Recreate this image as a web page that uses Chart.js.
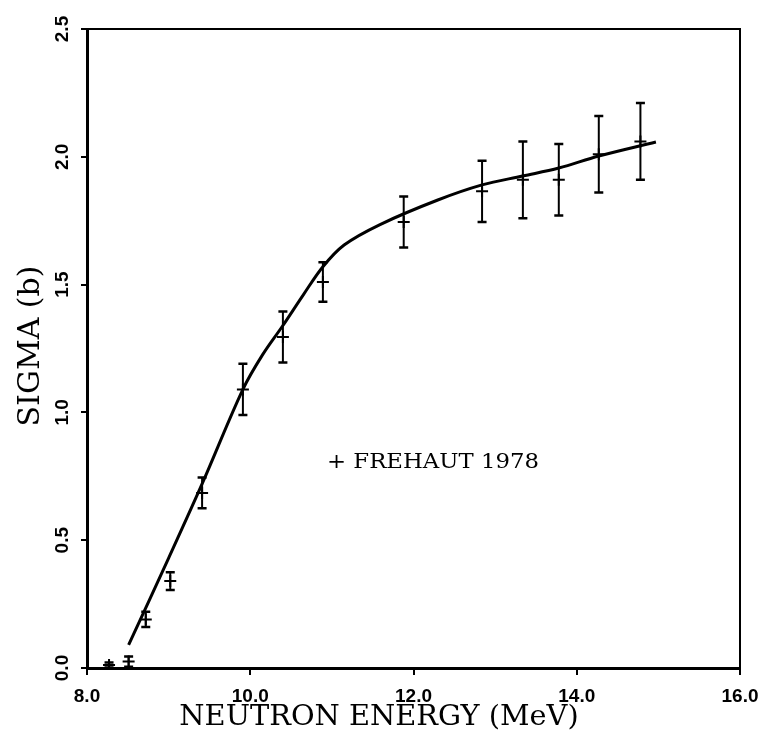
<!DOCTYPE html>
<html><head><meta charset="utf-8">
<script src="https://cdn.jsdelivr.net/npm/chart.js@4.4.1/dist/chart.umd.min.js"></script>
<style>html,body{margin:0;padding:0;background:#fff}#wrap{width:770px;height:741px}</style>
</head><body><div id="wrap"><canvas id="c" width="770" height="741"></canvas></div>
<script>
// Measured points (FREHAUT 1978)
const energies = [8.27, 8.51, 8.72, 9.02, 9.41, 9.91, 10.40, 10.89, 11.88, 12.84, 13.34, 13.78, 14.27, 14.78];
const sigma    = [0.012, 0.025, 0.19, 0.34, 0.685, 1.09, 1.295, 1.51, 1.745, 1.865, 1.91, 1.91, 2.01, 2.06];
const sigmaErr = [0.01, 0.02, 0.03, 0.035, 0.06, 0.10, 0.10, 0.077, 0.10, 0.12, 0.15, 0.14, 0.15, 0.15];
// Evaluated curve
const curveEnergy = [8.51, 9.00, 9.41, 9.91, 10.15, 10.40, 10.65, 10.89, 11.15, 11.59, 12.29, 12.84, 13.34, 13.78, 14.27, 14.97];
const curveSigma  = [0.09, 0.43, 0.72, 1.09, 1.225, 1.34, 1.46, 1.57, 1.655, 1.735, 1.83, 1.89, 1.925, 1.956, 2.003, 2.058];
// Axes
const xMin = 8, xMax = 16, xStep = 2;
const yMin = 0, yMax = 2.5, yStep = 0.5;
const xTitle = 'NEUTRON ENERGY (MeV)';
const yTitle = 'SIGMA (b)';
const legendText = '+ FREHAUT 1978';

const errorBars = {
  id: 'errorBars',
  afterDatasetsDraw(chart) {
    const {ctx, scales: {x, y}} = chart;
    ctx.save();
    ctx.strokeStyle = '#000';
    ctx.lineCap = 'butt';
    for (let i = 0; i < energies.length; i++) {
      const px = x.getPixelForValue(energies[i]);
      const top = y.getPixelForValue(sigma[i] + sigmaErr[i]);
      const bot = y.getPixelForValue(Math.max(0, sigma[i] - sigmaErr[i]));
      ctx.lineWidth = 2;
      ctx.beginPath(); ctx.moveTo(px, top); ctx.lineTo(px, bot); ctx.stroke();
      ctx.lineWidth = 2.5;
      ctx.beginPath();
      ctx.moveTo(px - 4.5, top); ctx.lineTo(px + 4.5, top);
      ctx.moveTo(px - 4.5, bot); ctx.lineTo(px + 4.5, bot);
      ctx.stroke();
    }
    ctx.restore();
  }
};

function stretchedText(ctx, text, cx, cy, sx, rot) {
  ctx.save();
  ctx.translate(cx, cy);
  if (rot) ctx.rotate(rot);
  ctx.scale(sx, 1);
  ctx.fillText(text, 0, 0);
  ctx.restore();
}

const frameAndText = {
  id: 'frameAndText',
  afterDraw(chart) {
    const {ctx, chartArea: a} = chart;
    ctx.save();
    ctx.strokeStyle = '#000';
    ctx.lineWidth = 2;
    ctx.beginPath();
    ctx.moveTo(a.left - 1, a.top); ctx.lineTo(a.right, a.top); ctx.lineTo(a.right, a.bottom);
    ctx.stroke();
    ctx.fillStyle = '#000';
    ctx.textAlign = 'center'; ctx.textBaseline = 'middle';
    ctx.font = '28px "DejaVu Serif"';
    stretchedText(ctx, xTitle, 379, 718, 1.03, 0);
    ctx.font = '30px "DejaVu Serif"';
    stretchedText(ctx, yTitle, 31, 346, 1.0, -Math.PI / 2);
    ctx.font = '20px "DejaVu Serif"';
    ctx.textAlign = 'left';
    stretchedText(ctx, legendText, 327, 463, 1.14, 0);
    ctx.restore();
  }
};

const tickFont = {family: '"Liberation Sans", Arial, sans-serif', weight: 'bold', size: 19};

new Chart(document.getElementById('c'), {
  data: {
    datasets: [
      {
        type: 'line',
        data: curveEnergy.map((e, i) => ({x: e, y: curveSigma[i]})),
        borderColor: '#000', borderWidth: 3, pointRadius: 0,
        tension: 0.35, fill: false
      },
      {
        type: 'scatter',
        data: energies.map((e, i) => ({x: e, y: sigma[i]})),
        pointStyle: 'cross', pointRadius: 6, borderColor: '#000', borderWidth: 2,
        backgroundColor: '#000'
      }
    ]
  },
  options: {
    responsive: false, animation: false, devicePixelRatio: 1,
    layout: {padding: {top: 29, right: 30, left: 0, bottom: 0}},
    plugins: {legend: {display: false}, tooltip: {enabled: false}},
    scales: {
      x: {
        type: 'linear', min: xMin, max: xMax,
        ticks: {stepSize: xStep, callback: v => v.toFixed(1), font: tickFont, color: '#000', padding: 10, maxRotation: 0},
        grid: {drawOnChartArea: false, drawTicks: true, tickLength: 7, color: '#000', lineWidth: 2},
        border: {display: true, color: '#000', width: 3},
        afterFit(s) { s.height = 73; }
      },
      y: {
        type: 'linear', min: yMin, max: yMax,
        ticks: {stepSize: yStep, callback: v => v.toFixed(1), font: tickFont, color: '#000', padding: 5,
                minRotation: 90, maxRotation: 90, crossAlign: 'center'},
        grid: {drawOnChartArea: false, drawTicks: true, tickLength: 6, color: '#000', lineWidth: 2},
        border: {display: true, color: '#000', width: 3},
        afterFit(s) { s.width = 87; }
      }
    }
  },
  plugins: [errorBars, frameAndText]
});
</script></body></html>
